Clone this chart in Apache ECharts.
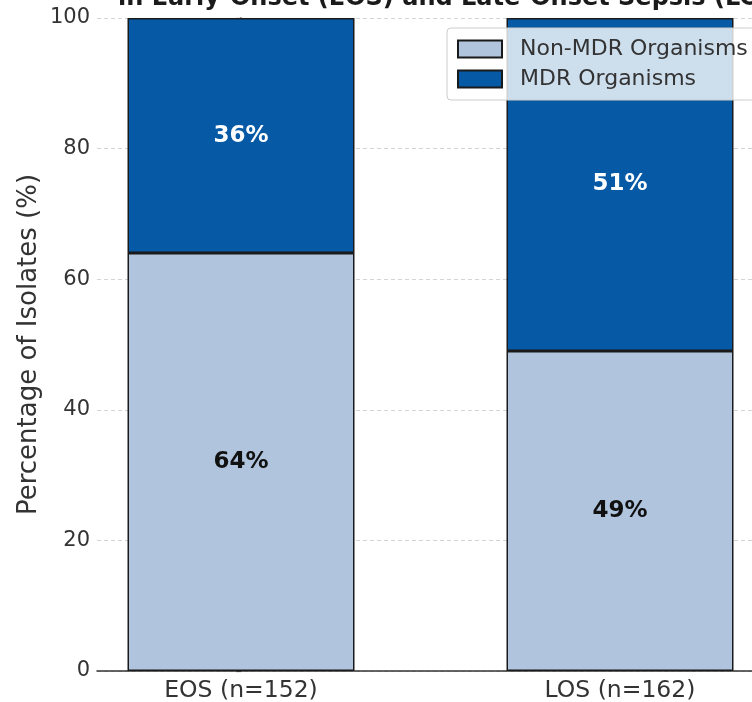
<!DOCTYPE html>
<html>
<head>
<meta charset="utf-8">
<script src="https://cdn.jsdelivr.net/npm/echarts@6/dist/echarts.min.js"></script>
<style>
  html, body { margin: 0; padding: 0; background: #fff; }
  #chart { width: 752px; height: 702px; }
</style>
</head>
<body>
<div id="chart"></div>
<script>
  // data
  var categories = ['EOS (n=152)', 'LOS (n=162)'];
  var nonMdr = [64, 49];
  var mdr = [36, 51];

  var FONT = 'DejaVu Sans';
  var chart = echarts.init(document.getElementById('chart'));

  var barLabel = function (color) {
    return {
      show: true,
      position: 'inside',
      formatter: '{c}%',
      fontSize: 23,
      fontWeight: 'bold',
      color: color,
      fontFamily: FONT
    };
  };

  chart.setOption({
    animation: false,
    textStyle: { fontFamily: FONT },
    graphic: [{
      type: 'text',
      x: 118,
      y: 11,
      z: 10,
      style: {
        text: 'in Early-Onset (EOS) and Late-Onset Sepsis (LOS)',
        font: 'bold 24px "DejaVu Sans"',
        fill: '#1a1a1a',
        verticalAlign: 'bottom'
      }
    }],
    legend: {
      orient: 'vertical',
      left: 447,
      top: 28,
      padding: [10, 8, 10, 10],
      itemGap: 8,
      itemWidth: 44,
      itemHeight: 17,
      icon: 'rect',
      backgroundColor: 'rgba(255,255,255,0.8)',
      borderColor: '#cccccc',
      borderWidth: 1,
      borderRadius: 4,
      textStyle: { fontSize: 22, color: '#333', fontFamily: FONT, padding: [0, 0, 0, 13] },
      data: ['Non-MDR Organisms', 'MDR Organisms']
    },
    // grid 0: visible axes; grid 1: bars, sized so category centres land under the labels
    grid: [
      { left: 97, width: 667, top: 18, bottom: 31, outerBoundsMode: 'none' },
      { left: 51.5, width: 758, top: 18, bottom: 31, outerBoundsMode: 'none' }
    ],
    xAxis: [
      {
        gridIndex: 0,
        type: 'value',
        min: -0.38,
        max: 1.38,
        splitLine: { show: false },
        axisLine: { show: true, lineStyle: { color: '#333', width: 1.5 } },
        axisTick: { show: false },
        axisLabel: {
          customValues: [0, 1],
          fontSize: 23.5,
          color: '#333',
          margin: 8,
          formatter: function (v) { return categories[Math.round(v)]; }
        }
      },
      {
        gridIndex: 1,
        type: 'category',
        data: categories,
        show: false
      }
    ],
    yAxis: [
      {
        gridIndex: 0,
        type: 'value',
        min: 0,
        max: 100,
        interval: 20,
        name: 'Percentage of Isolates (%)',
        nameLocation: 'middle',
        nameGap: 55,
        nameMoveOverlap: false,
        nameTextStyle: { fontSize: 26, color: '#333', fontFamily: FONT },
        axisLine: { show: true, lineStyle: { color: '#333', width: 1.5 } },
        axisTick: { show: true, length: 5, lineStyle: { color: '#333', width: 1.2 } },
        axisLabel: { fontSize: 21, color: '#333', margin: 7 },
        splitLine: { show: true, lineStyle: { color: '#d4d4d4', type: [4, 3], width: 1 } }
      },
      {
        gridIndex: 1,
        type: 'value',
        min: 0,
        max: 100,
        show: false,
        splitLine: { show: false }
      }
    ],
    series: [
      {
        name: 'Non-MDR Organisms',
        type: 'bar',
        xAxisIndex: 1,
        yAxisIndex: 1,
        stack: 'total',
        barWidth: 227,
        data: nonMdr,
        itemStyle: { color: '#b0c4de', borderColor: '#1a1a1a', borderWidth: 1.5 },
        label: barLabel('#111')
      },
      {
        name: 'MDR Organisms',
        type: 'bar',
        xAxisIndex: 1,
        yAxisIndex: 1,
        stack: 'total',
        barWidth: 227,
        data: mdr,
        itemStyle: { color: '#0659a5', borderColor: '#1a1a1a', borderWidth: 1.5 },
        label: barLabel('#ffffff')
      }
    ]
  });
</script>
</body>
</html>
